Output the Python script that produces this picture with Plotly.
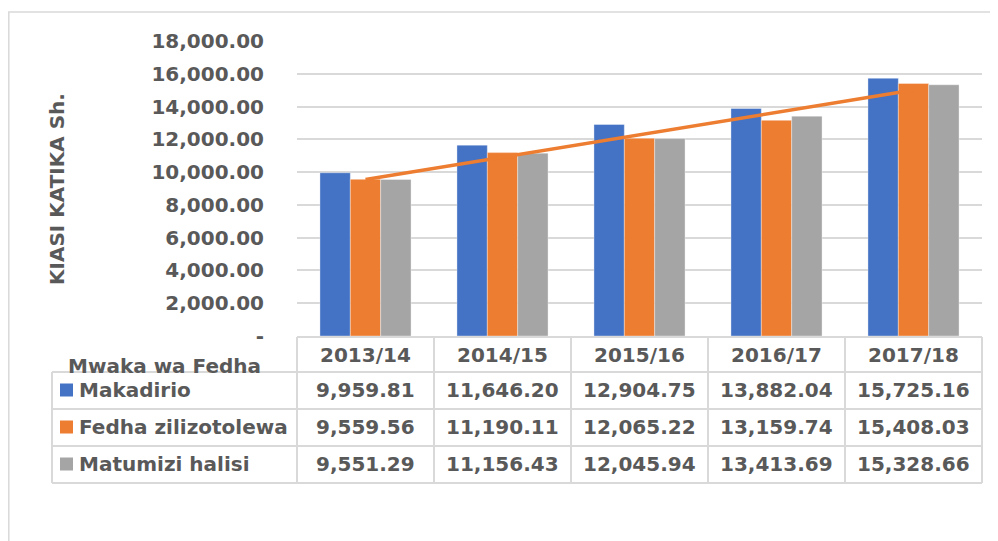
import numpy as np
import plotly.graph_objects as go

years = ["2013/14", "2014/15", "2015/16", "2016/17", "2017/18"]
series_names = ["Makadirio", "Fedha zilizotolewa", "Matumizi halisi"]
makadirio = [9959.81, 11646.20, 12904.75, 13882.04, 15725.16]
fedha_zilizotolewa = [9559.56, 11190.11, 12065.22, 13159.74, 15408.03]
matumizi_halisi = [9551.29, 11156.43, 12045.94, 13413.69, 15328.66]
colors = ["#4472C4", "#ED7D31", "#A5A5A5"]
y_ticks = list(range(0, 18001, 2000))
y_ticktext = ["-" if v == 0 else f"{v:,.2f}" for v in y_ticks]
y_title = "KIASI KATIKA Sh."
table_corner = "Mwaka wa Fedha"

all_series = [makadirio, fedha_zilizotolewa, matumizi_halisi]

FONT = "DejaVu Sans"
TXT = "#595959"
GRID = "#D9D9D9"
W_FIG, H_FIG = 998, 541
OFF = 8  # page body margin
# plot area in page pixels: x 297..982, y 41..336
PL, PR, PT, PB = 297, 982, 41, 336
L = PL - OFF
R = W_FIG - (PR - OFF)
T = PT - OFF
B = H_FIG - (PB - OFF)
PW = PR - PL
PH = PB - PT


def px_x(px):
    return (px - PL) / PW


def px_y(py):
    return (PB - py) / PH


fig = go.Figure()
for name, vals, col in zip(series_names, all_series, colors):
    fig.add_trace(go.Bar(x=years, y=vals, name=name,
                         marker=dict(color=col, line=dict(width=0.6, color="rgba(255,255,255,0.6)"))))

# linear trendline of Fedha zilizotolewa
xi = np.arange(len(years))
slope, intercept = np.polyfit(xi, fedha_zilizotolewa, 1)
trend = slope * xi + intercept
fig.add_trace(go.Scatter(x=years, y=trend, mode="lines", line=dict(color="#ED7D31", width=3.5),
                         showlegend=False, hoverinfo="skip"))

shapes = []
# outer chart frame
shapes.append(dict(type="rect", xref="paper", yref="paper", x0=px_x(OFF + 0.8), x1=px_x(1020),
                   y0=px_y(700), y1=px_y(12),
                   line=dict(color=GRID, width=1.5), fillcolor="rgba(0,0,0,0)", layer="below"))

# data table grid
col_edges = [297 + 137 * i for i in range(len(years) + 1)]
row_edges = [337, 372, 409, 446, 483]
for i, yy in enumerate(row_edges):
    x_start = col_edges[0] if i == 0 else 52
    shapes.append(dict(type="line", xref="paper", yref="paper", x0=px_x(x_start), x1=px_x(col_edges[-1]),
                       y0=px_y(yy), y1=px_y(yy), line=dict(color=GRID, width=2)))
for xx in col_edges:
    shapes.append(dict(type="line", xref="paper", yref="paper", x0=px_x(xx), x1=px_x(xx),
                       y0=px_y(row_edges[0]), y1=px_y(row_edges[-1]), line=dict(color=GRID, width=2)))
shapes.append(dict(type="line", xref="paper", yref="paper", x0=px_x(52), x1=px_x(52),
                   y0=px_y(row_edges[1]), y1=px_y(row_edges[-1]), line=dict(color=GRID, width=2)))

annotations = []
fnt = dict(family=FONT, size=20, color=TXT, weight="bold")
# header row
for yr in years:
    annotations.append(dict(x=yr, xref="x", y=px_y(355), yref="paper", text=yr, showarrow=False,
                            xanchor="center", yanchor="middle", font=fnt))
row_centers = [390, 427, 464]
for name, vals, col, rc in zip(series_names, all_series, colors, row_centers):
    shapes.append(dict(type="rect", xref="paper", yref="paper", x0=px_x(60), x1=px_x(73),
                       y0=px_y(rc + 6.5), y1=px_y(rc - 6.5), fillcolor=col, line=dict(width=0)))
    annotations.append(dict(x=px_x(77), xref="paper", y=px_y(rc), yref="paper", text=name, showarrow=False,
                            xanchor="left", yanchor="middle", font=fnt))
    for yr, v in zip(years, vals):
        annotations.append(dict(x=yr, xref="x", y=px_y(rc), yref="paper", text=f"{v:,.2f}", showarrow=False,
                                xanchor="center", yanchor="middle", font=fnt))
annotations.append(dict(x=px_x(66), xref="paper", y=px_y(366), yref="paper", text=table_corner, showarrow=False,
                        xanchor="left", yanchor="middle", font=fnt))
annotations.append(dict(x=px_x(57), xref="paper", y=px_y(189), yref="paper", text=y_title, showarrow=False,
                        textangle=-90, xanchor="center", yanchor="middle", font=fnt))

fig.update_layout(
    width=W_FIG, height=H_FIG,
    margin=dict(l=L, r=R, t=T, b=B, pad=0),
    paper_bgcolor="white", plot_bgcolor="white",
    barmode="group", bargap=0.335, bargroupgap=0,
    showlegend=False,
    font=dict(family=FONT, size=20, color=TXT),
    shapes=shapes, annotations=annotations,
    xaxis=dict(showticklabels=False, showgrid=False, zeroline=False, showline=False, ticks=""),
    yaxis=dict(range=[0, 18000], tickvals=y_ticks, ticktext=y_ticktext, showgrid=True, gridcolor=GRID,
               gridwidth=1.5, zeroline=False, showline=False, ticks="outside", ticklen=28,
               tickcolor="rgba(0,0,0,0)", tickfont=dict(family=FONT, size=20, color=TXT, weight="bold")),
)

fig.write_html("out.html")
